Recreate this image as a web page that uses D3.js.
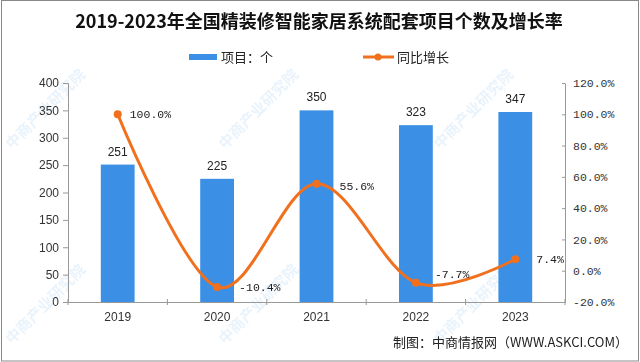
<!DOCTYPE html>
<html>
<head>
<meta charset="utf-8">
<script src="https://cdn.jsdelivr.net/npm/d3@7"></script>
<style>
  body { margin: 0; background: #fff; }
  svg { display: block; }
</style>
</head>
<body>
<div id="viewport"></div>
<script>
var years = ["2019", "2020", "2021", "2022", "2023"];
var projects = [251, 225, 350, 323, 347];
var growth = [100.0, -10.4, 55.6, -7.7, 7.4];
var leftTicks = [0, 50, 100, 150, 200, 250, 300, 350, 400];
var rightTicks = [-20, 0, 20, 40, 60, 80, 100, 120];

var W = 640, H = 362;
var margin = {top: 83, right: 75, bottom: 60, left: 68};
var width = W - margin.left - margin.right,
    height = H - margin.top - margin.bottom;

var blue = "#3b8fe5", orange = "#f0701e";
var mono = "'Liberation Mono', 'DejaVu Sans Mono', monospace";
var cjk = "'Noto Sans CJK SC', sans-serif";

var svg = d3.select("#viewport").append("svg")
    .attr("width", W)
    .attr("height", H);

// watermark, kept faint and inside the frame
var marks = svg.append("g").attr("fill", "#5aa3e6").attr("opacity", 0.13)
    .attr("font-family", cjk).attr("font-size", 15).attr("font-weight", 700);
[[12, 150], [225, 150], [440, 150], [12, 345], [225, 345], [440, 345]].forEach(function(p) {
    marks.append("text")
        .attr("transform", "translate(" + p[0] + "," + p[1] + ") rotate(-45)")
        .text("中商产业研究院");
});

var x = d3.scaleBand().domain(years).range([0, width]).paddingInner(0.66).paddingOuter(0.33);
var xc = d3.scaleBand().domain(years).range([0, width]);
var y = d3.scaleLinear().domain([0, 400]).range([height, 0]);
var y2 = d3.scaleLinear().domain([-20, 120]).range([height, 0]);

var g = svg.append("g")
    .attr("transform", "translate(" + margin.left + "," + margin.top + ")");

// title
svg.append("text")
    .attr("x", 319).attr("y", 28)
    .attr("text-anchor", "middle")
    .attr("font-family", cjk).attr("font-weight", 700).attr("font-size", 18)
    .attr("fill", "#111")
    .text("2019-2023年全国精装修智能家居系统配套项目个数及增长率");

// legend
var lg = svg.append("g").attr("font-family", cjk).attr("font-size", 13).attr("fill", "#222");
lg.append("rect").attr("x", 189).attr("y", 54).attr("width", 28).attr("height", 6).attr("fill", blue);
lg.append("text").attr("x", 221).attr("y", 62).text("项目：个");
lg.append("line").attr("x1", 363).attr("x2", 394).attr("y1", 57).attr("y2", 57)
    .attr("stroke", orange).attr("stroke-width", 3);
lg.append("circle").attr("cx", 378).attr("cy", 57).attr("r", 3.5).attr("fill", orange);
lg.append("text").attr("x", 397).attr("y", 62).text("同比增长");

// axes
var axisColor = "#999";
var yAxis = g.append("g")
    .call(d3.axisLeft(y).tickValues(leftTicks).tickSize(5).tickPadding(4));
yAxis.selectAll("text").attr("font-family", "'Liberation Sans', Arial, sans-serif")
    .attr("font-size", 12).attr("fill", "#333");

var y2Axis = g.append("g")
    .attr("transform", "translate(" + width + ",0)")
    .call(d3.axisRight(y2).tickValues(rightTicks).tickSize(0).tickPadding(8)
        .tickFormat(function(d) { return d.toFixed(1) + "%"; }));
y2Axis.selectAll(".tick line").attr("x1", -3).attr("x2", 0);
y2Axis.selectAll("text").attr("font-family", mono).attr("font-size", 11.5).attr("fill", "#333");

var xAxis = g.append("g")
    .attr("transform", "translate(0," + height + ")")
    .call(d3.axisBottom(xc).tickSize(0).tickPadding(10));
xAxis.selectAll("text").attr("font-family", "'Liberation Sans Narrow', 'Liberation Sans', sans-serif")
    .attr("font-size", 12).attr("fill", "#333");
// band boundary ticks
g.append("g").selectAll("line")
    .data(d3.range(years.length + 1))
    .enter().append("line")
    .attr("x1", function(i) { return i * xc.step(); })
    .attr("x2", function(i) { return i * xc.step(); })
    .attr("y1", height - 3).attr("y2", height + 3)
    .attr("stroke", axisColor);

svg.selectAll(".domain, .tick line").attr("stroke", axisColor);

// bars
g.selectAll(".bar")
    .data(projects)
    .enter().append("rect")
    .attr("class", "bar")
    .attr("x", function(d, i) { return x(years[i]); })
    .attr("y", function(d) { return y(d); })
    .attr("width", x.bandwidth())
    .attr("height", function(d) { return height - y(d); })
    .attr("fill", blue);

g.selectAll(".barlabel")
    .data(projects)
    .enter().append("text")
    .attr("class", "barlabel")
    .attr("x", function(d, i) { return xc(years[i]) + xc.bandwidth() / 2; })
    .attr("y", function(d) { return y(d) - 9; })
    .attr("text-anchor", "middle")
    .attr("font-family", "'Liberation Sans', Arial, sans-serif")
    .attr("font-size", 12).attr("fill", "#222")
    .text(function(d) { return d; });

// line
var cx = function(i) { return xc(years[i]) + xc.bandwidth() / 2; };
var line = d3.line()
    .x(function(d, i) { return cx(i); })
    .y(function(d) { return y2(d); })
    .curve(d3.curveCardinal.tension(0));

g.append("path")
    .datum(growth)
    .attr("d", line)
    .attr("fill", "none")
    .attr("stroke", orange)
    .attr("stroke-width", 3);

g.selectAll(".dot")
    .data(growth)
    .enter().append("circle")
    .attr("cx", function(d, i) { return cx(i); })
    .attr("cy", function(d) { return y2(d); })
    .attr("r", 4)
    .attr("fill", orange);

// label offsets from each point: [dx, dy]
var lblOff = [[12, 4], [22, 4], [23, 6], [19, -5], [21, 4]];
g.selectAll(".ratelabel")
    .data(growth)
    .enter().append("text")
    .attr("class", "ratelabel")
    .attr("x", function(d, i) { return cx(i) + lblOff[i][0]; })
    .attr("y", function(d, i) { return y2(d) + lblOff[i][1]; })
    .attr("font-family", mono).attr("font-size", 11.5).attr("fill", "#222")
    .text(function(d) { return d.toFixed(1) + "%"; });

// source
svg.append("text")
    .attr("x", 628).attr("y", 347)
    .attr("text-anchor", "end")
    .attr("font-family", "'Noto Sans CJK SC', 'Liberation Mono', monospace")
    .attr("font-size", 13).attr("fill", "#222")
    .text("制图：中商情报网（WWW.ASKCI.COM）");

// frame
svg.append("rect")
    .attr("x", 1.5).attr("y", 0.5).attr("width", W - 3).attr("height", H - 1.5)
    .attr("fill", "none").attr("stroke", "#888");
</script>
</body>
</html>
